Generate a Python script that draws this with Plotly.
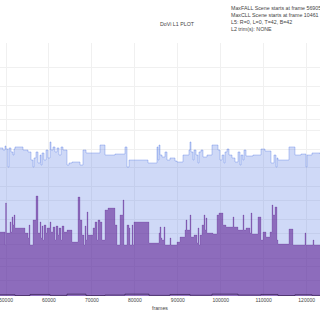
import plotly.graph_objects as go

# DoVi L1 metadata (12-bit PQ codes) per scene start frame
max_frames = [48603, 49301, 49767, 50000, 50465, 50698, 51164, 51629, 51862, 52095,
              53957, 55121, 55820, 56285, 56518, 56984, 57449, 57915, 58148, 58381,
              58846, 59312, 59777, 60243, 60476, 60941, 61407, 61873, 62338, 62804,
              63270, 64201, 64666, 65365, 67227, 67925, 68624, 71883, 73047, 75375,
              77703, 78169, 78634, 83057, 85153, 85385, 85618, 85851, 86317, 87015,
              87481, 88179, 89343, 89809, 91205, 92602, 92835, 93068, 93533, 93766,
              94232, 94697, 94930, 95396, 95861, 96793, 97957, 99353, 99819, 100285,
              100750, 100983, 101449, 101914, 102613, 103311, 104009, 104475, 104708, 105173,
              105406, 105872, 107501, 109364, 110295, 111692, 112390, 112856, 113089, 113321,
              115882, 117279, 118679, 119843, 120075, 121239, 123103]
max_pq = [2396, 2363, 2428, 2379, 2088, 2396, 2331, 2282, 2379, 2412,
          2363, 2331, 2201, 2088, 2234, 2331, 2153, 2282, 2120, 2315,
          2201, 2363, 2234, 2493, 2363, 2412, 2331, 2396, 2282, 2412,
          2363, 2120, 2153, 2169, 2120, 2363, 2315, 2444, 2282, 2298,
          2412, 2088, 2201, 2153, 2412, 2201, 2444, 2282, 2250, 2331,
          2201, 2234, 2185, 2169, 2282, 2363, 2493, 2331, 2201, 2363,
          2282, 2153, 2331, 2363, 2250, 2282, 2444, 2363, 2201, 2282,
          2153, 2331, 2379, 2282, 2234, 2169, 2331, 2120, 2282, 2201,
          2363, 2266, 2282, 2379, 2347, 2153, 2282, 2088, 2234, 2201,
          2412, 2282, 2298, 2088, 2282, 2315, 2298]

avg_frames = [48603, 49767, 49884, 50116, 50931, 51164, 51397, 51629, 51862, 52095,
              54423, 55121, 55354, 55587, 56285, 56984, 57449, 57915, 58148, 58381,
              58613, 58846, 59312, 59545, 60243, 60476, 60941, 61407, 61640, 62106,
              62338, 62804, 63037, 63502, 64201, 65365, 66761, 67227, 67692, 68158,
              68391, 68624, 68857, 69089, 70253, 70719, 71185, 71417, 71883, 72349,
              73047, 73745, 75375, 75841, 76539, 77237, 77470, 78169, 78634, 78867,
              79333, 79565, 79798, 83290, 85618, 85851, 86084, 86317, 86782, 87015,
              88179, 88412, 89809, 90507, 91671, 91903, 92136, 92835, 93068, 93766,
              94464, 94697, 94930, 95163, 95629, 96094, 96327, 96560, 96793, 98189,
              99121, 99586, 100517, 101216, 102845, 103078, 104009, 105173, 105406, 105872,
              106803, 107036, 107269, 108665, 109364, 109829, 110528, 111459, 111925, 112158,
              112623, 113089, 113321, 115882, 116815, 119607, 119843, 121469, 121702, 123103]
avg_pq = [1036, 825, 1505, 1020, 1198, 1036, 1279, 1149, 1311, 1101,
          1020, 939, 1149, 825, 1230, 1619, 1020, 1198, 939, 1133,
          906, 1149, 1020, 1101, 1198, 1036, 1117, 906, 1133, 987,
          1101, 906, 1133, 1036, 1068, 874, 1602, 1230, 987, 825,
          1133, 906, 1360, 987, 1101, 1198, 906, 1230, 1198, 906,
          1392, 1424, 1149, 825, 1311, 1554, 825, 1149, 1101, 825,
          1149, 825, 1198, 858, 1020, 1117, 939, 906, 1117, 825,
          939, 825, 874, 955, 1068, 1230, 1068, 1311, 955, 987,
          858, 1101, 825, 987, 1149, 1311, 1068, 1263, 1020, 1004,
          1311, 1343, 1149, 1117, 1279, 1117, 1068, 1311, 1068, 1101,
          1020, 1343, 1004, 1279, 906, 1036, 955, 1036, 1473, 1311,
          1441, 906, 842, 1084, 825, 1020, 825, 906, 825, 825]

min_frames = [48603, 52095, 55587, 60243, 64201, 68624, 73047, 77703, 83290, 88179,
              92835, 97957, 104009, 109364, 113321, 117279, 121239, 123103]
min_pq = [20, 8, 25, 10, 30, 8, 15, 30, 10, 25, 12, 30, 15, 25, 8, 20, 10, 10]

x_ticks = [50000, 60000, 70000, 80000, 90000, 100000, 110000, 120000]
nits_labels = ["0.1", "0.5", "1", "2.5", "5", "10", "25", "50", "100", "200",
               "400", "600", "1000", "2000", "4000", "10000"]
nits_pq = [255, 481, 614, 827, 1015, 1235, 1542, 1772, 2081, 2371,
           2672, 2853, 3079, 3388, 3696, 4095]

info_lines = ["MaxFALL Scene starts at frame 56905",
              "MaxCLL Scene starts at frame 10461",
              "L5: R=0, L=0, T=42, B=42",
              "L2 trim(s): NONE"]

FONT = "Liberation Sans, Arial, sans-serif"
GRID = "#f0f0f0"

fig = go.Figure()
fig.add_trace(go.Scatter(x=max_frames, y=max_pq, mode="lines", line_shape="hv",
                         fill="tozeroy", fillcolor="rgba(65,105,225,0.25)",
                         line=dict(color="rgba(65,105,225,0.45)", width=0.7),
                         name="Maximum"))
fig.add_trace(go.Scatter(x=avg_frames, y=avg_pq, mode="lines", line_shape="hv",
                         fill="tozeroy", fillcolor="rgba(75,0,130,0.5)",
                         line=dict(color="rgba(75,0,130,0.35)", width=0.5),
                         name="Average"))
fig.add_trace(go.Scatter(x=min_frames, y=min_pq, mode="lines", line_shape="hv",
                         line=dict(color="rgba(20,0,40,0.7)", width=0.7),
                         name="Minimum"))

fig.update_layout(
    width=320, height=320,
    margin=dict(l=0, r=0, t=43, b=24),
    paper_bgcolor="white", plot_bgcolor="white",
    showlegend=False,
    font=dict(family=FONT, size=5.2, color="#444"),
    title=dict(text="DoVi L1 PLOT", x=177/320, xanchor="center",
               y=1-24/320, yanchor="middle",
               font=dict(family=FONT, size=5.3, color="#444")),
    xaxis=dict(range=[48603, 123103], tickvals=x_ticks,
               ticktext=[str(v) for v in x_ticks],
               ticklabeloverflow="allow",
               showgrid=True, gridcolor=GRID, gridwidth=1,
               zeroline=False, showline=False, ticks="",
               tickfont=dict(size=5, color="#444"),
               title=dict(text="frames", standoff=4,
                          font=dict(size=5.2, color="#444"))),
    yaxis=dict(range=[0, 4095], tickvals=nits_pq, ticktext=nits_labels,
               showticklabels=False, showgrid=True, gridcolor=GRID,
               gridwidth=1, zeroline=False, showline=False, ticks=""),
)

fig.add_annotation(text="<br>".join(info_lines), xref="paper", yref="paper",
                   x=229/320, y=(296-2.5)/253, xanchor="left", yanchor="top",
                   align="left", showarrow=False,
                   font=dict(family=FONT, size=5.3, color="#444"))

fig.write_html("out.html")
